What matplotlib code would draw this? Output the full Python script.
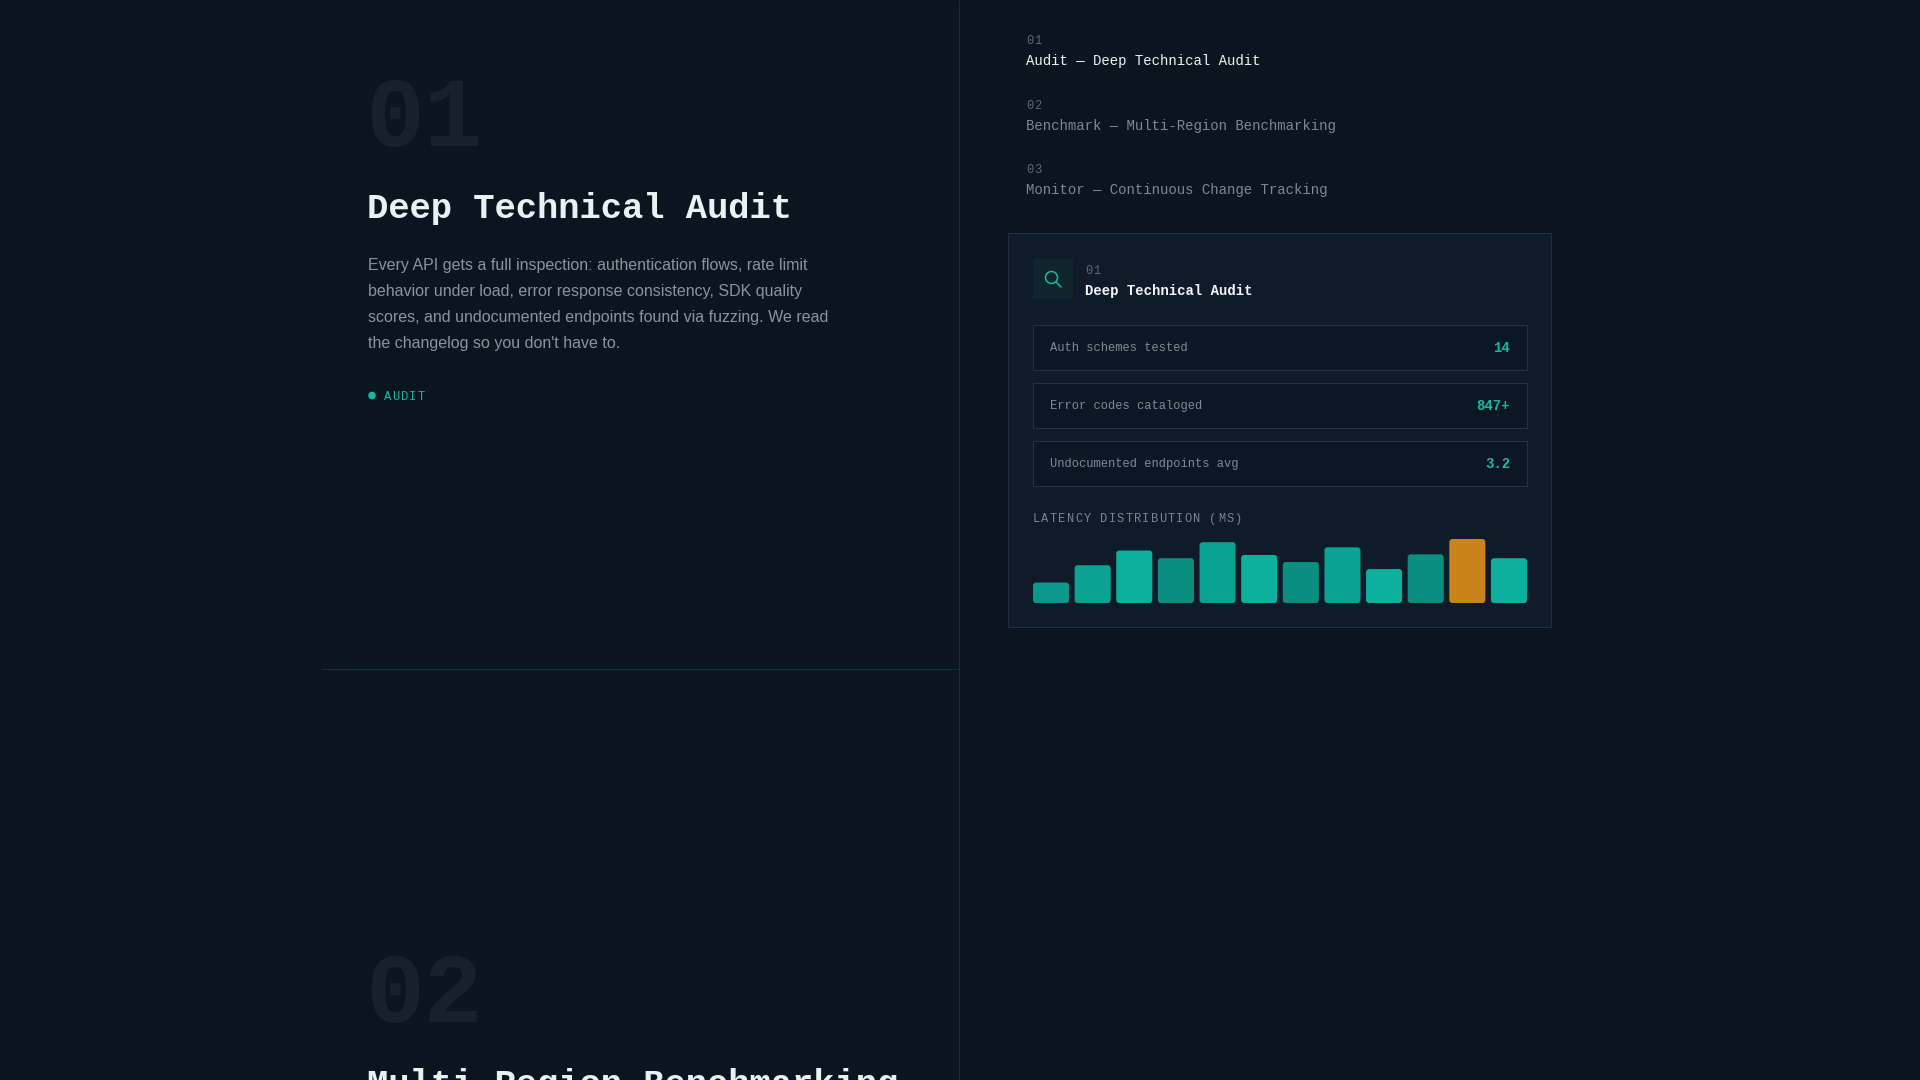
import matplotlib
matplotlib.use("Agg")
import matplotlib.pyplot as plt
from matplotlib.patches import Rectangle, Circle, FancyBboxPatch

# ---------------- data ----------------
nav_numbers = ["01", "02", "03"]
nav_items = ["Audit — Deep Technical Audit",
             "Benchmark — Multi-Region Benchmarking",
             "Monitor — Continuous Change Tracking"]
section_number = "01"
section_title = "Deep Technical Audit"
section_text = ["Every API gets a full inspection: authentication flows, rate limit",
                "behavior under load, error response consistency, SDK quality",
                "scores, and undocumented endpoints found via fuzzing. We read",
                "the changelog so you don't have to."]
section_tag = "AUDIT"
next_number = "02"
next_title = "Multi-Region Benchmarking"
metric_labels = ["Auth schemes tested", "Error codes cataloged", "Undocumented endpoints avg"]
metric_values = ["14", "847+", "3.2"]
chart_title = "LATENCY DISTRIBUTION (MS)"
latency_bars = [32, 59, 82, 70, 95, 75, 64, 87, 53, 76, 100, 70]
bar_colors = ["#0c978a", "#0aa291", "#0cb09c", "#0a8e80", "#0aa291", "#0cb09c",
              "#0a8e80", "#0aa291", "#0cb09c", "#0a8e80", "#c8841a", "#0cb09c"]

# ---------------- style ----------------
BG = "#0a1520"
LINE = "#1f2a37"
CARD = "#101b2a"
CARD_EDGE = "#232f3e"
ROW = "#0c1724"
ROW_EDGE = "#253141"
TEAL = "#14b8a6"
WHITE = "#e9f1f2"
GREY = "#8a949f"
DIM = "#5d6874"
BIGNUM = "#17212c"
PX = 0.72  # points per pixel at dpi 100
MONO = "Liberation Mono"
SANS = "Liberation Sans"

fig = plt.figure(figsize=(19.2, 10.8), dpi=100, facecolor=BG)
ax = fig.add_axes([0, 0, 1, 1])
ax.set_xlim(0, 1920)
ax.set_ylim(1080, 0)
ax.axis("off")
ax.set_facecolor(BG)


def mono(x, y, s, size, color, weight="normal", spacing=0.0, ha="left"):
    if spacing == 0:
        ax.text(x, y, s, fontsize=size * PX, family=MONO, color=color,
                weight=weight, va="baseline", ha=ha)
    else:
        adv = 0.6 * size + spacing
        for i, ch in enumerate(s):
            ax.text(x + i * adv, y, ch, fontsize=size * PX, family=MONO,
                    color=color, weight=weight, va="baseline", ha="left")


# divider lines
ax.plot([959, 959], [0, 1080], color=LINE, lw=1.0 * PX, solid_capstyle="butt")
ax.plot([321, 959], [669, 669], color=LINE, lw=1.0 * PX, solid_capstyle="butt")

# ---------------- left column ----------------
mono(365, 146, section_number, 98, BIGNUM, weight="bold")
mono(367, 218, section_title, 35.5, WHITE, weight="bold")
for i, line in enumerate(section_text):
    ax.text(368, 270 + i * 26, line, fontsize=16 * PX, family=SANS, color=GREY,
            va="baseline", ha="left")
ax.add_patch(Circle((372, 395.5), 3.8, fc=TEAL, ec="none"))
mono(384, 400, section_tag, 12, TEAL, spacing=1.1)

mono(365, 1022, next_number, 98, BIGNUM, weight="bold")
mono(367, 1094, next_title, 35.5, WHITE, weight="bold")

# ---------------- right column nav ----------------
for i, (n, item) in enumerate(zip(nav_numbers, nav_items)):
    mono(1026, 44.5 + i * 64.3, n, 12, DIM, spacing=1.2)
    mono(1026, 65.5 + i * 64.3, item, 14, "#eef2f5" if i == 0 else "#7e8893")

# ---------------- card ----------------
ax.add_patch(Rectangle((1008, 233), 543, 394, fc=CARD, ec=CARD_EDGE, lw=1.0 * PX))
ax.add_patch(Rectangle((1033, 259), 40, 40, fc="#0f252b", ec="none"))
ax.add_patch(Circle((1051.5, 277.5), 6.0, fill=False, ec=TEAL, lw=1.1))
ax.plot([1056, 1061], [282, 287], color=TEAL, lw=1.1, solid_capstyle="round")
mono(1085, 274, section_number, 12, DIM, spacing=1.0)
mono(1085, 295, section_title, 14, "#f3f6f8", weight="bold")

for i, (lab, val) in enumerate(zip(metric_labels, metric_values)):
    top = 325 + i * 58
    ax.add_patch(Rectangle((1033, top), 494, 45, fc=ROW, ec=ROW_EDGE, lw=1.0 * PX))
    mono(1050, top + 26, lab, 12, "#7f8a95")
    mono(1510, top + 27, val, 14, TEAL, weight="bold", ha="right")

mono(1033, 522, chart_title, 12, "#7a8591", spacing=1.2)

# ---------------- latency bar chart ----------------
bx0, bx1, by0, by1 = 1033, 1527, 539, 603
bax = fig.add_axes([bx0 / 1920, (1080 - by1) / 1080, (bx1 - bx0) / 1920, (by1 - by0) / 1080])
bax.set_facecolor("none")
bax.axis("off")
wfrac = 36 / 41.6
xs = list(range(len(latency_bars)))
bars = bax.bar(xs, latency_bars, width=wfrac, color=bar_colors, edgecolor="none")
bax.set_xlim(-wfrac / 2, len(latency_bars) - 1 + wfrac / 2)
bax.set_ylim(0, 100)
# round the bar corners (radius ~3px) using the bar geometry in data units
x_units_per_px = (len(latency_bars) - 1 + wfrac) / (bx1 - bx0)
y_units_per_px = 100 / (by1 - by0)
r = 3 * x_units_per_px
for b in bars:
    b.set_visible(False)
    bax.add_patch(FancyBboxPatch((b.get_x(), b.get_y()), b.get_width(), b.get_height(),
                                 boxstyle=f"round,pad=0,rounding_size={r}",
                                 mutation_aspect=y_units_per_px / x_units_per_px,
                                 fc=b.get_facecolor(), ec="none"))

fig.savefig("out.png", dpi=100, facecolor=BG)
